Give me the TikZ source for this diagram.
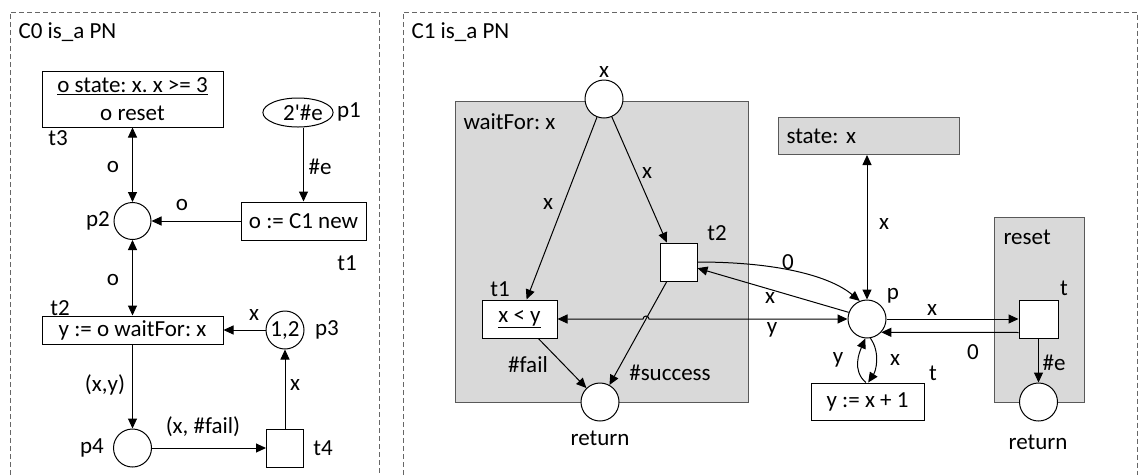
\documentclass[tikz,border=0pt]{standalone}
\usepackage{fontspec}
\setmainfont{Carlito}
\usetikzlibrary{arrows.meta,shapes.geometric}
\frenchspacing

\begin{document}
\begin{tikzpicture}[x=1pt,y=-1pt,line width=1pt,
    >={Triangle[length=10pt,width=9pt]},
    every node/.style={font=\fontsize{23}{28}\selectfont,inner sep=0pt},
    place/.style={circle,draw,fill=white,minimum size=38pt},
    trans/.style={rectangle,draw,fill=white,minimum width=37pt,minimum height=38pt},
    module/.style={draw=black!65,fill=black!15},
    frame/.style={draw=black!60,dash pattern=on 5pt off 3pt}]
      \useasboundingbox (0,0) rectangle (1139,475);
      \draw[frame] (10,475) -- (10,12) -- (379,12) -- (379,475);
      \draw[frame] (403,475) -- (403,12) -- (1137.5,12) -- (1137.5,475);

      % C0
      \node[anchor=west] (c0) at (18,32) {C0 is\_a PN};
      \node[trans,minimum width=181pt,minimum height=56pt,align=center] (t3) at (132.5,99) {\underline{o state: x. x >= 3}\\o reset};
      \node (t3l) at (58,138) {t3};
      \node[ellipse,draw,fill=white,minimum width=66pt,minimum height=29pt] (p1) at (298,112.5) {\hspace*{10pt}2\textquotesingle\#e};
      \node (p1l) at (349,112) {p1};
      \node[trans,minimum width=125pt] (t1) at (303.5,221) {o := C1 new};
      \node (t1l) at (347,263) {t1};
      \node[place,minimum size=37pt] (p2) at (132.5,221) {};
      \node (p2l) at (98,221) {p2};
      \node[trans,minimum width=181pt,minimum height=28pt] (t2) at (132.5,330) {y := o waitFor: x};
      \node (t2l) at (60,308) {t2};
      \node[place] (p3) at (285,330) {1,2};
      \node (p3l) at (327,330) {p3};
      \node[place] (p4) at (132.5,448) {};
      \node (p4l) at (92,448) {p4};
      \node[trans] (t4) at (285,448) {};
      \node (t4l) at (323,448) {t4};

      \draw[<->] (t3) -- (p2);
      \draw[->] (p1.south -| t1.north) -- (t1.north);
      \draw[->] (t1) -- (p2);
      \draw[<->] (p2) -- (t2);
      \draw[->] (p3) -- (t2);
      \draw[->] (t2) -- (p4);
      \draw[->] (p4) -- (t4);
      \draw[->] (t4) -- (p3);
      \node (a1) at (113,167) {o};
      \node (a2) at (320,167) {\#e};
      \node (a3) at (182,205) {o};
      \node (a4) at (113,280) {o};
      \node (a5) at (254,315) {x};
      \node (a6) at (105,385) {(x,y)};
      \node (a7) at (203,427) {(x, \#fail)};
      \node (a8) at (295,385) {x};

      % C1
      \node[anchor=west] (c1) at (411,32) {C1 is\_a PN};
      \draw[module] (455,101) rectangle (748,402);
      \draw[module] (994,217) rectangle (1084,402);
      \node[anchor=west] (wfl) at (463,122) {waitFor: x};
      \node[anchor=west] (rsl) at (1003,237) {reset};
      \node[module,anchor=north west,minimum height=37pt,text width=165pt,inner xsep=8pt,align=left] (state) at (778,117) {state: x};

      \node[place] (wx) at (604,99) {};
      \node (wxl) at (604,72) {x};
      \node[trans,minimum width=75pt] (wt1) at (519.5,319) {\underline{x < y}};
      \node (wt1l) at (500,289) {t1};
      \node[trans] (wt2) at (678.5,262) {};
      \node (wt2l) at (717,233) {t2};
      \node[place] (wret) at (600,402) {};
      \node (wretl) at (600,438) {return};
      \node[place] (p) at (867,319) {};
      \node (pl) at (893,296) {p};
      \node[trans,minimum width=39pt] (rt) at (1038.5,319) {};
      \node (rtl) at (1064,288) {t};
      \node[place] (rret) at (1038.5,402) {};
      \node (rretl) at (1038,442) {return};
      \node[trans,minimum width=113pt,minimum height=37pt] (inc) at (867.5,401.5) {y := x + 1};
      \node (incl) at (933,373) {t};
      \coordinate (hop) at (646,319);

      \draw[->] (wx) -- (wt1.70);
      \draw[->] (wx) -- (wt2.121);
      \draw[->] (wt1.-46) -- (wret);
      \draw[->] (wt2.-121) -- (wret);
      \draw[<->] (wt1.east) -- ([xshift=-3pt]hop) arc[start angle=180,end angle=0,radius=3pt] -- (p.west);
      \draw[->] (wt2.east) .. controls +(80,0) and +(-30,-25) .. (p.112);
      \draw[->] (p.160) -- (wt2.-18);
      \draw[<->] (p) -- (p |- state.south);
      \draw[->] (p) -- (rt);
      \draw[->] (rt.214) -- (p.-43);
      \draw[->] (rt) -- (rret);
      \draw[->] (inc.95) .. controls +(-14,-12) and +(-6,14) .. (p.-95);
      \draw[->] (p.-80) .. controls +(10,14) and +(8,-12) .. (inc.88);
      \node (b1) at (548,204) {x};
      \node (b2) at (647,173) {x};
      \node (b3) at (528,365) {\#fail};
      \node (b4) at (670,373) {\#success};
      \node (b5) at (884,224) {x};
      \node (b6) at (788,262) {0};
      \node (b7) at (770,298) {x};
      \node (b8) at (772,330) {y};
      \node (b9) at (932,310) {x};
      \node (b10) at (973,352) {0};
      \node (b11) at (1054,363) {\#e};
      \node (b12) at (838,360) {y};
      \node (b13) at (895,360) {x};
\end{tikzpicture}
\end{document}
